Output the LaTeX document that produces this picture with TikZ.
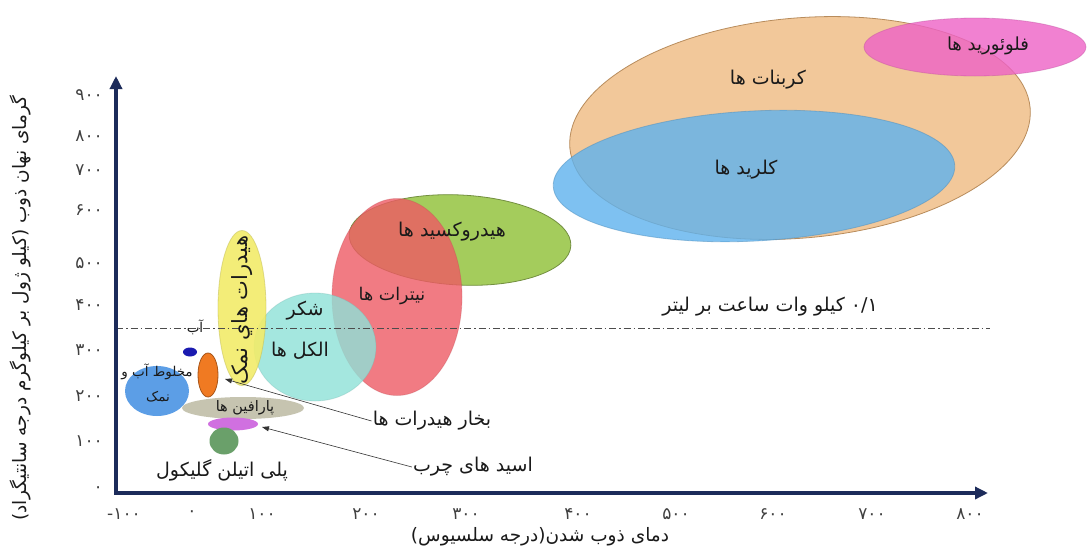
\documentclass[tikz,border=0pt]{standalone}
\usepackage{fontspec}
\usetikzlibrary{arrows.meta,shapes.geometric}
\newfontfamily\arabicfont[Script=Arabic]{DejaVu Sans}
\TeXXeTstate=1
\definecolor{navy}{HTML}{1C2B5A}
\definecolor{carb}{HTML}{F2C89A}
\definecolor{carbd}{HTML}{B88C5C}
\definecolor{chlo}{HTML}{5EB2EE}
\definecolor{fluo}{HTML}{EE62C6}
\definecolor{hydx}{HTML}{A4CC5C}
\definecolor{nitr}{HTML}{EE5A64}
\definecolor{sugr}{HTML}{8EE2D8}
\definecolor{salt}{HTML}{F2EC6A}
\definecolor{watr}{HTML}{1A1AB0}
\definecolor{mixt}{HTML}{5C9EE6}
\definecolor{vapr}{HTML}{F07A22}
\definecolor{praf}{HTML}{C6C4B0}
\definecolor{fatt}{HTML}{D070E0}
\definecolor{pegc}{HTML}{6AA06A}
\definecolor{ink}{HTML}{1A1A1A}
\begin{document}
\begin{tikzpicture}[x=1pt,y=-1pt,
  blob/.style={ellipse,inner sep=0pt,line width=0.8pt},
  lbl/.style={font=\arabicfont\fontsize{19}{22}\selectfont,inner sep=1pt,text=ink},
  sml/.style={font=\arabicfont\fontsize{13.5}{16}\selectfont,inner sep=0.5pt,text=ink},
  tick/.style={font=\arabicfont\fontsize{17}{20}\selectfont,inner sep=1pt,text=black!75},
  axis/.style={line width=3.5pt,draw=navy,line join=miter},
  ptr/.style={draw=black!80,line width=0.6pt,-{Triangle[length=7pt,width=5pt]}},
  ref/.style={draw=black!70,line width=0.8pt,dash pattern=on 7pt off 3pt on 1.5pt off 3pt}]
\useasboundingbox (0,0) rectangle (1087,552);
\fill[white] (0,0) rectangle (1087,552);
% blobs
\node[blob,fill=carb,draw=carbd,minimum width=462pt,minimum height=220pt,rotate=5] (carbE) at (800,128) {};
\node[blob,fill=chlo,fill opacity=0.8,draw=chlo!80!black,draw opacity=0.5,minimum width=402pt,minimum height=130pt,rotate=3] (chloE) at (754,176) {};
\node[blob,fill=fluo,fill opacity=0.8,draw=fluo!80!black,draw opacity=0.4,minimum width=222pt,minimum height=58pt] (fluoE) at (975,47) {};
\node[blob,fill=hydx,draw=hydx!70!black,minimum width=222pt,minimum height=90pt,rotate=-3] (hydxE) at (460,240) {};
\node[blob,fill=nitr,fill opacity=0.8,draw=nitr!80!black,draw opacity=0.3,minimum width=130pt,minimum height=197pt] (nitrE) at (397,297) {};
\node[blob,fill=sugr,fill opacity=0.8,draw=sugr!80!black,draw opacity=0.3,minimum width=122pt,minimum height=108pt] (sugrE) at (315,347) {};
\node[blob,fill=salt,fill opacity=0.9,draw=salt!80!black,draw opacity=0.5,minimum width=48pt,minimum height=155pt] (saltE) at (242,308) {};
\node[blob,fill=watr,minimum width=14pt,minimum height=9pt] (watrE) at (190,352) {};
\node[blob,fill=mixt,minimum width=64pt,minimum height=50pt] (mixtE) at (157,391) {};
\node[blob,fill=vapr,draw=vapr!70!black,minimum width=20pt,minimum height=44pt] (vaprE) at (208,375) {};
\node[blob,fill=praf,minimum width=122pt,minimum height=22pt] (prafE) at (243,408) {};
\node[blob,fill=fatt,minimum width=50pt,minimum height=13pt] (fattE) at (233,424) {};
\node[blob,fill=pegc,minimum width=29pt,minimum height=27pt] (pegE) at (224,441) {};
% reference line
\coordinate (refL) at (116,328);
\coordinate (refR) at (990,328);
\draw[ref] (refL) -- (refR);
\node[lbl] (refT) at (770,307) {\beginR ۰/۱ کیلو وات ساعت بر لیتر\endR};
% axes
\coordinate (org) at (116,493);
\coordinate (ytop) at (116,76);
\coordinate (xend) at (988,493);
\draw[axis,{Triangle[length=13pt,width=12pt]}-{Triangle[length=13pt,width=12pt]}] (ytop) -- (org) -- (xend);
% y ticks
\foreach \n/\y/\t in {0/490/۰,1/441/۱۰۰,2/396/۲۰۰,3/350/۳۰۰,4/305/۴۰۰,5/263/۵۰۰,6/210/۶۰۰,7/170/۷۰۰,8/136/۸۰۰,9/95/۹۰۰}
  \node[tick,anchor=east] (yt\n) at (104,\y) {\t};
% x ticks
\node[tick] (xtm) at (124,514) {\mbox{-}\mbox{۱۰۰}};
\foreach \n/\x/\t in {0/192/۰,1/262/۱۰۰,2/366/۲۰۰,3/466/۳۰۰,4/578/۴۰۰,5/676/۵۰۰,6/773/۶۰۰,7/872/۷۰۰,8/970/۸۰۰}
  \node[tick] (xt\n) at (\x,514) {\t};
% axis titles
\node[lbl,font=\arabicfont\fontsize{18.5}{22}\selectfont,rotate=90] (ylab) at (20,308) {\beginR گرمای نهان ذوب (کیلو ژول بر کیلوگرم درجه سانتیگراد)\endR};
\node[lbl,font=\arabicfont\fontsize{18.5}{22}\selectfont] (xlab) at (540,537) {\beginR دمای ذوب شدن(درجه سلسیوس)\endR};
% blob labels
\node[lbl] (carbT) at (768,80) {\beginR کربنات ها\endR};
\node[lbl,font=\arabicfont\fontsize{18}{22}\selectfont] (fluoT) at (988,46) {\beginR فلوئورید ها\endR};
\node[lbl] (chloT) at (746,170) {\beginR کلرید ها\endR};
\node[lbl] (hydxT) at (452,232) {\beginR هیدروکسید ها\endR};
\node[lbl,font=\arabicfont\fontsize{17.5}{22}\selectfont] (nitrT) at (392,296) {\beginR نیترات ها\endR};
\node[lbl] (sugrT) at (305,311) {\beginR شکر\endR};
\node[lbl] (alcT) at (300,351) {\beginR الکل ها\endR};
\node[lbl,font=\arabicfont\fontsize{21}{24}\selectfont,rotate=90] (saltT) at (242,310) {\beginR هیدرات هاي نمک\endR};
\node[sml] (watrT) at (195,327) {\beginR آب\endR};
\node[sml] (mixT1) at (157,372) {\beginR مخلوط آب و\endR};
\node[sml] (mixT2) at (158,397) {\beginR نمک\endR};
\node[sml,font=\arabicfont\fontsize{14.5}{16}\selectfont] (prafT) at (245,408) {\beginR پارافین ها\endR};
\node[lbl] (pegT) at (222,470) {\beginR پلی اتیلن گلیکول\endR};
\node[lbl] (vapT) at (432,421) {\beginR بخار هیدرات ها\endR};
\node[lbl] (fatT) at (473,467) {\beginR اسید های چرب\endR};
% pointers
\coordinate (vapTip) at (225,379);
\coordinate (fatTip) at (262,427);
\draw[ptr] (vapT.west) -- (vapTip);
\draw[ptr] (fatT.west) -- (fatTip);
\end{tikzpicture}
\end{document}
